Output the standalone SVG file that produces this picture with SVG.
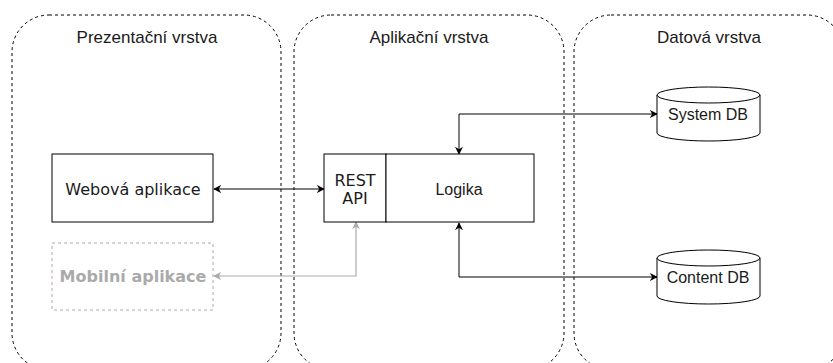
<svg xmlns="http://www.w3.org/2000/svg" width="833" height="363" viewBox="0 0 833 363">
<defs>
<style>
.layer{fill:none;stroke:#000;stroke-width:1;stroke-dasharray:3 3}
.title{font-family:"Liberation Sans",Arial,sans-serif;font-size:17px;fill:#1a1a1a;text-anchor:middle}
.box{fill:#fff;stroke:#000;stroke-width:1}
.lbl{font-family:"DejaVu Sans",Verdana,sans-serif;font-size:16px;fill:#1a1a1a;text-anchor:middle}
.lbl2{font-family:"Liberation Sans",Arial,sans-serif;font-size:16px;fill:#1a1a1a;text-anchor:middle}
.conn{fill:none;stroke:#000;stroke-width:1}
.conn-g{fill:none;stroke:#aaa;stroke-width:1.2}
</style>
<marker id="ah" viewBox="0 0 10 10" refX="9" refY="5" markerWidth="8" markerHeight="8" markerUnits="userSpaceOnUse" orient="auto-start-reverse">
<path d="M0,0 L10,5 L0,10 L3,5 Z" fill="#000"/>
</marker>
<marker id="ahg" viewBox="0 0 10 10" refX="9" refY="5" markerWidth="8" markerHeight="8" markerUnits="userSpaceOnUse" orient="auto-start-reverse">
<path d="M0,0 L10,5 L0,10 L3,5 Z" fill="#aaa"/>
</marker>
</defs>
<rect width="833" height="363" fill="#fff"/>
<g id="layer-presentation">
<rect class="layer" x="12" y="15" width="269" height="355" rx="37" ry="37"/>
<text class="title" x="147" y="43">Prezentační vrstva</text>
</g>
<g id="layer-application">
<rect class="layer" x="294" y="15" width="270" height="355" rx="37" ry="37"/>
<text class="title" x="429" y="43">Aplikační vrstva</text>
</g>
<g id="layer-data">
<rect class="layer" x="574" y="15" width="270" height="355" rx="37" ry="37"/>
<text class="title" x="709" y="43">Datová vrstva</text>
</g>
<g id="connectors">
<path class="conn" d="M214,189 L324,189" marker-start="url(#ah)" marker-end="url(#ah)"/>
<path class="conn-g" d="M214,276 L356,276 L356,222" marker-start="url(#ahg)" marker-end="url(#ahg)"/>
<path class="conn" d="M459,154 L459,114 L657,114" marker-start="url(#ah)" marker-end="url(#ah)"/>
<path class="conn" d="M459,223 L459,277 L657,277" marker-start="url(#ah)" marker-end="url(#ah)"/>
</g>
<g id="web-app">
<rect class="box" x="52" y="154" width="161" height="68"/>
<text class="lbl" x="133" y="195">Webová aplikace</text>
</g>
<g id="mobile-app">
<rect x="52" y="243" width="161" height="67" fill="#fff" stroke="#aaa" stroke-width="1" stroke-dasharray="3 3"/>
<text class="lbl" x="133" y="282" font-weight="bold" style="fill:#aaa">Mobilní aplikace</text>
</g>
<g id="rest-api">
<rect class="box" x="324" y="154" width="62" height="68"/>
<text class="lbl" x="355" y="186">REST</text>
<text class="lbl" x="355" y="204">API</text>
</g>
<g id="logika">
<rect class="box" x="386" y="154" width="148" height="68"/>
<text class="lbl2" x="459" y="195">Logika</text>
</g>
<g id="system-db">
<path class="box" d="M657,95 A51.5,8 0 0 1 760,95 L760,133 A51.5,8 0 0 1 657,133 Z"/>
<path class="conn" d="M657,95 A51.5,8 0 0 0 760,95"/>
<text class="lbl2" x="708" y="120">System DB</text>
</g>
<g id="content-db">
<path class="box" d="M657,258 A51.5,8 0 0 1 760,258 L760,296 A51.5,8 0 0 1 657,296 Z"/>
<path class="conn" d="M657,258 A51.5,8 0 0 0 760,258"/>
<text class="lbl2" x="708" y="283">Content DB</text>
</g>
</svg>
